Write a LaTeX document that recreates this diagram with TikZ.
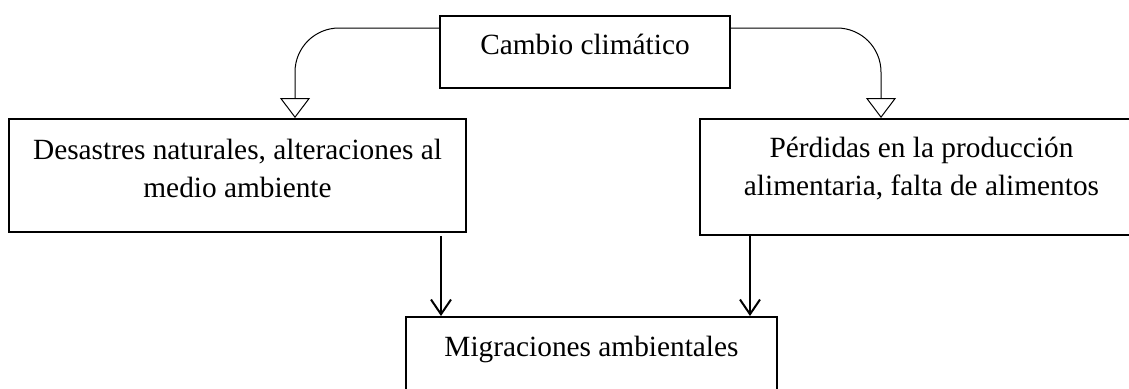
\documentclass[tikz,border=0pt]{standalone}
\usepackage{fontspec}
\setmainfont{Liberation Serif}
\usetikzlibrary{arrows.meta,calc}
\newcommand{\bxt}[4]{\parbox[c][#2][t]{#1}{\centering\rule{0pt}{#3}#4}}
\tikzset{
  boxnode/.style={draw, line width=1.5pt, inner sep=0pt, font=\fontsize{22pt}{28.5pt}\selectfont},
  curvearrow/.style={line width=0.75pt, rounded corners=33pt, -{Triangle[open,width=22.5pt,length=15pt,line width=0.75pt]}},
  downarrow/.style={line width=1.5pt, -{Straight Barb[length=11pt,width=15pt,line width=1.5pt]}}
}
\begin{document}
\begin{tikzpicture}[x=0.75pt,y=-0.75pt]
\useasboundingbox (0,0) rectangle (1129,389);
\clip (0,0) rectangle (1129,389);
\node[boxnode] (top) at (585,52) {\bxt{217.5pt}{54pt}{29.25pt}{Cambio climático}};
\node[boxnode] (lb) at (237.5,175.5) {\bxt{342.75pt}{84.75pt}{30pt}{Desastres naturales, alteraciones al\\ medio ambiente}};
\node[boxnode] (rb) at (921.5,177) {\bxt{332.25pt}{87pt}{29pt}{Pérdidas en la producción\\ alimentaria, falta de alimentos}};
\node[boxnode] (bb) at (591.5,374.5) {\bxt{278.25pt}{86.25pt}{29.25pt}{Migraciones ambientales}};
\draw[curvearrow] ($(top.north west)+(0,13)$) -| ($(lb.north west)+(287,0)$);
\draw[curvearrow] ($(top.north east)+(0,13)$) -| ($(rb.north west)+(182,0)$);
\draw[downarrow] ($(lb.south east)+(-26,3)$) coordinate (a1) -- (a1 |- bb.north);
\draw[downarrow] ($(rb.south west)+(51,0)$) coordinate (a2) -- (a2 |- bb.north);
\end{tikzpicture}
\end{document}
